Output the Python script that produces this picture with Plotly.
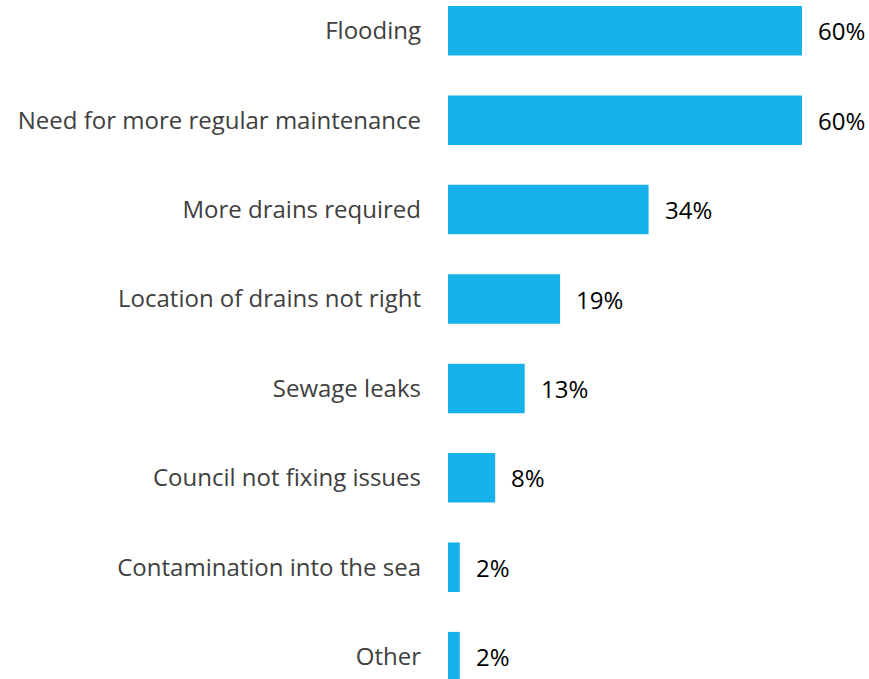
import plotly.graph_objects as go

categories = [
    "Flooding",
    "Need for more regular maintenance",
    "More drains required",
    "Location of drains not right",
    "Sewage leaks",
    "Council not fixing issues",
    "Contamination into the sea",
    "Other",
]
values = [60, 60, 34, 19, 13, 8, 2, 2]
value_labels = [f"{v}%" for v in values]

BAR_COLOR = "#17B2EA"
FONT = "'Open Sans', sans-serif"

fig = go.Figure()
fig.add_trace(go.Bar(
    x=values,
    y=categories,
    orientation="h",
    marker=dict(color=BAR_COLOR, line=dict(width=0)),
    width=0.554,
    hoverinfo="skip",
))

for c, v, t in zip(categories, values, value_labels):
    fig.add_annotation(
        x=v, y=c, text=t, showarrow=False,
        xanchor="left", yanchor="middle", xshift=14,
        font=dict(family=FONT, size=24, color="#000000"),
    )

fig.update_layout(
    width=869, height=679,
    margin=dict(l=448, r=0, t=0, b=0),
    paper_bgcolor="white", plot_bgcolor="white",
    showlegend=False,
    font=dict(family=FONT, size=24, color="#404040"),
    xaxis=dict(range=[0, 71.36], visible=False, fixedrange=True),
    yaxis=dict(
        type="category",
        categoryorder="array", categoryarray=categories,
        range=[7.25, -0.344],
        showgrid=False, zeroline=False, showline=False,
        ticks="", ticklabelstandoff=26,
        tickfont=dict(family=FONT, size=24, color="#404040"),
        fixedrange=True,
    ),
)

fig.write_html("out.html", config={"displayModeBar": False},
               post_script="document.body.style.margin='0';")
